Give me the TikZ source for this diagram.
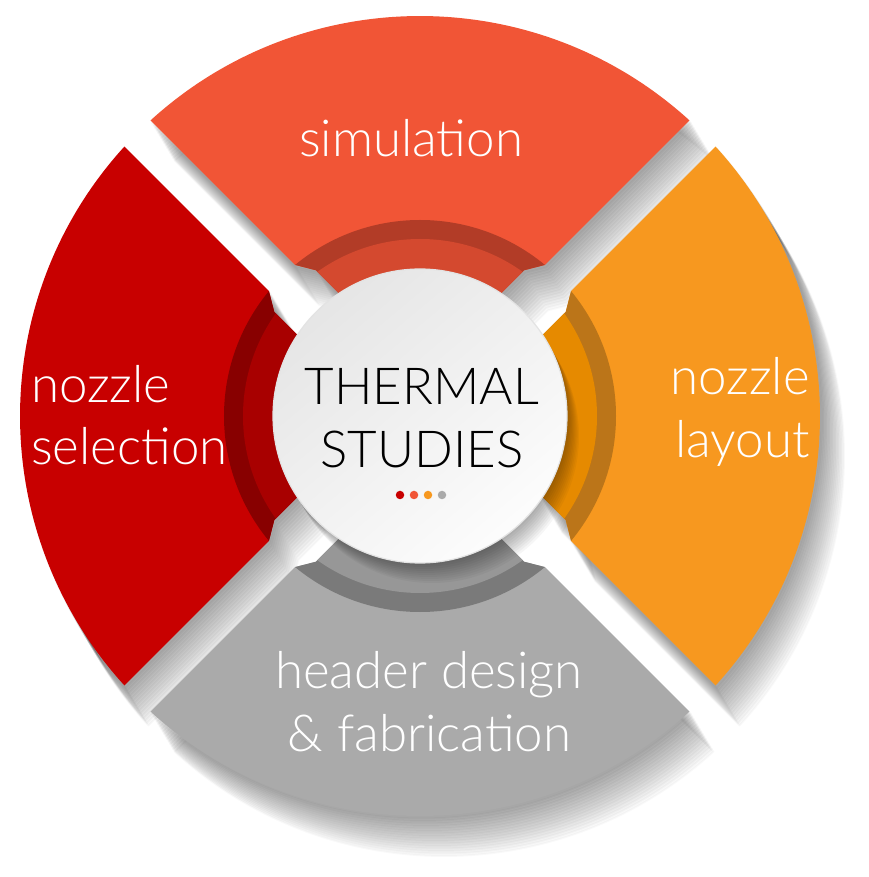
\documentclass[tikz,border=0pt]{standalone}
\usepackage{fontspec}
\setmainfont{Lato Light}
\definecolor{simMain}{HTML}{F15536}
\definecolor{simDark}{HTML}{B23C27}
\definecolor{simIn}{HTML}{D4492F}
\definecolor{redMain}{HTML}{C80000}
\definecolor{redDark}{HTML}{880000}
\definecolor{redIn}{HTML}{A80000}
\definecolor{orMain}{HTML}{F7981F}
\definecolor{orDark}{HTML}{BB7519}
\definecolor{orIn}{HTML}{E68A00}
\definecolor{grMain}{HTML}{AAAAAA}
\definecolor{grDark}{HTML}{7A7A7A}
\definecolor{grIn}{HTML}{979797}
\newcommand{\pieceshape}{(47.65:400) arc[start angle=47.65,end angle=132.35,radius=400] -- (129.58:196) -- (125.51:179) -- (122.83:140) arc[start angle=122.83,end angle=57.17,radius=140] -- (54.49:179) -- (50.42:196) -- cycle}
\tikzset{
  lbl/.style={text=white,inner sep=0pt,font=\fontsize{51}{60}\selectfont},
  ctext/.style={text=black,inner sep=0pt,font=\fontsize{51}{60}\selectfont},
  dot/.style={circle,inner sep=0pt,minimum size=8.5},
  shadowlayer/.style={fill=black,draw=black,line width=2,line join=round,opacity=0.022}
}
\begin{document}
\begin{tikzpicture}[x=1pt,y=1pt]
\useasboundingbox (-420,-461) rectangle (448,416);
\fill[white] (-420,-461) rectangle (448,416);
% soft drop shadows of the four pieces (cast down and to the right)
\foreach \a in {0,90,180,270}{
  \foreach \k in {1,...,16}{
    \begin{scope}[shift={(1.5*\k,-2.5*\k)},rotate=\a]
      \path[shadowlayer] \pieceshape;
    \end{scope}
  }
}
% the four pieces
\foreach \a/\m/\d/\i in {0/simMain/simDark/simIn,90/redMain/redDark/redIn,180/grMain/grDark/grIn,270/orMain/orDark/orIn}{
  \begin{scope}[rotate=\a]
    \fill[\m] \pieceshape;
    \begin{scope}
      \clip \pieceshape;
      \fill[\d] (0,0) circle[radius=196];
      \fill[\i] (0,0) circle[radius=177];
    \end{scope}
  \end{scope}
}
% shadow of the hub
\foreach \k in {1,...,10}{
  \path[fill=black,opacity=0.035] (1.2*\k,-2*\k) circle[radius=147];
}
\node[circle,minimum size=294,inner sep=0pt,draw=gray!22,line width=1.2,top color=gray!20,bottom color=gray!2,shading angle=40] (hub) at (0,0) {};
% texts
\node[ctext,anchor=base] (t1) at (2,11) {THERMAL};
\node[ctext,anchor=base] (t2) at (2,-52) {STUDIES};
\node[dot,fill=redMain] (d1) at (-20,-79) {};
\node[dot,fill=simMain] (d2) at (-6,-79) {};
\node[dot,fill=orMain] (d3) at (8,-79) {};
\node[dot,fill=grMain] (d4) at (22,-79) {};
\node[lbl,anchor=base] (sim) at (-9,259) {simulation};
\node[lbl,anchor=base west] (ns1) at (-389,13) {nozzle};
\node[lbl,anchor=base west] (ns2) at (-389,-49) {selection};
\node[lbl,anchor=base east] (nl1) at (390,21) {nozzle};
\node[lbl,anchor=base east] (nl2) at (390,-42) {layout};
\node[lbl,anchor=base] (hd1) at (9,-272) {header design};
\node[lbl,anchor=base] (hd2) at (9.5,-335) {\& fabrication};
\end{tikzpicture}
\end{document}
